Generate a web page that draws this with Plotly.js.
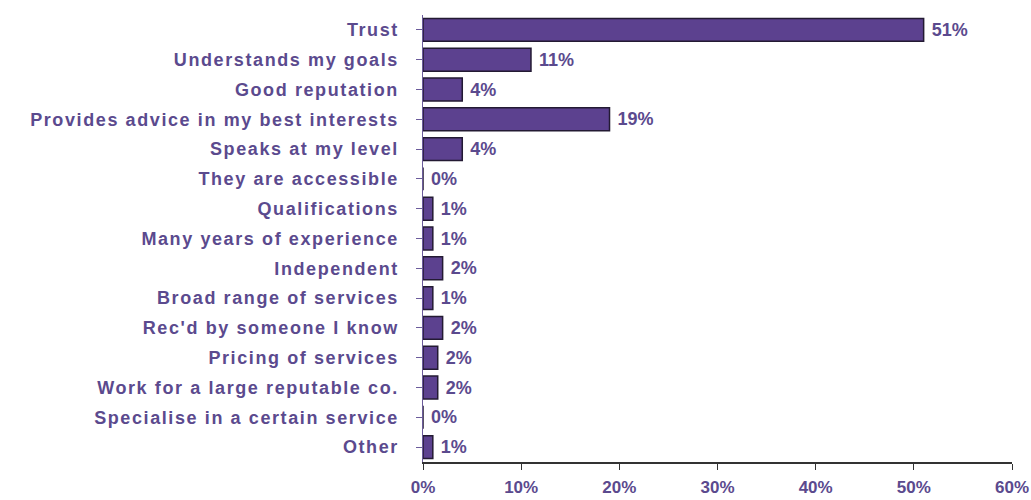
<!DOCTYPE html>
<html>
<head>
<meta charset="utf-8">
<script src="https://cdn.plot.ly/plotly-3.0.1.min.js"></script>
<style>
html,body{margin:0;padding:0;background:#fff;}
#chart{width:1031px;height:500px;}
#chart .ytick text{letter-spacing:1.6px;}
</style>
</head>
<body>
<div id="chart"></div>
<script>
const categories = [
  "Trust",
  "Understands my goals",
  "Good reputation",
  "Provides advice in my best interests",
  "Speaks at my level",
  "They are accessible",
  "Qualifications",
  "Many years of experience",
  "Independent",
  "Broad range of services",
  "Rec'd by someone I know",
  "Pricing of services",
  "Work for a large reputable co.",
  "Specialise in a certain service",
  "Other"
];
const values = [51, 11, 4, 19, 4, 0, 1, 1, 2, 1, 2, 1.5, 1.5, 0, 1];
const valueLabels = ["51%", "11%", "4%", "19%", "4%", "0%", "1%", "1%", "2%", "1%", "2%", "2%", "2%", "0%", "1%"];
const xTicks = [0, 10, 20, 30, 40, 50, 60];
const xTickLabels = ["0%", "10%", "20%", "30%", "40%", "50%", "60%"];

const purple = "#5b4a8e";
const font = "Liberation Sans, Arial, sans-serif";

const trace = {
  type: "bar",
  orientation: "h",
  x: values,
  y: categories,
  text: valueLabels.map(t => "\u00a0" + t),
  textposition: "outside",
  constraintext: "none",
  cliponaxis: false,
  textfont: {family: font, size: 18, color: purple, weight: "bold"},
  marker: {color: "#5c418f", line: {color: "#231a33", width: 1.5}},
  hoverinfo: "none"
};

const layout = {
  width: 1031,
  height: 500,
  margin: {l: 423, r: 19, t: 15, b: 38},
  paper_bgcolor: "#ffffff",
  plot_bgcolor: "#ffffff",
  showlegend: false,
  bargap: 0.23,
  font: {family: font, color: purple},
  xaxis: {
    range: [0, 60],
    tickvals: xTicks,
    ticktext: xTickLabels,
    ticks: "outside",
    ticklen: 6,
    tickcolor: "#333333",
    showline: true,
    linecolor: "#333333",
    linewidth: 1.5,
    showgrid: false,
    zeroline: false,
    fixedrange: true,
    ticklabelstandoff: 3,
    tickfont: {family: font, size: 17, color: purple, weight: "bold"}
  },
  yaxis: {
    type: "category",
    autorange: "reversed",
    ticks: "outside",
    ticklen: 6,
    tickcolor: "#6b5b9b",
    showline: true,
    linecolor: "#6b5b9b",
    linewidth: 1.5,
    showgrid: false,
    zeroline: false,
    ticklabelstandoff: 13,
    tickfont: {family: font, size: 18, color: purple, weight: "bold"}
  }
};

Plotly.newPlot("chart", [trace], layout, {displayModeBar: false, staticPlot: true});
</script>
</body>
</html>
